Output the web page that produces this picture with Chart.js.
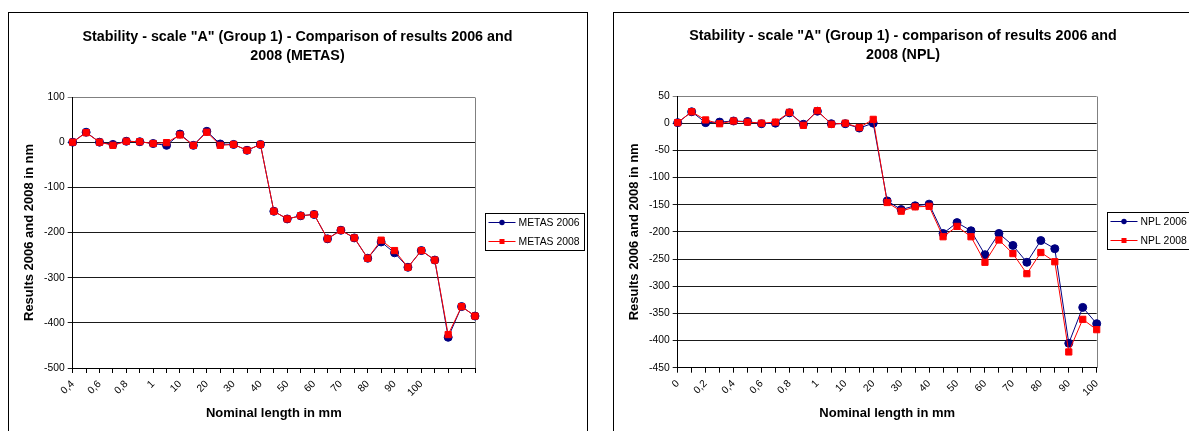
<!DOCTYPE html>
<html><head><meta charset="utf-8">
<script src="https://cdn.jsdelivr.net/npm/chart.js@4.4.1/dist/chart.umd.min.js"></script>
<style>
html,body{margin:0;padding:0;background:#fff;overflow:hidden;width:1189px;height:431px;}
.box{position:absolute;border:1px solid #000;box-sizing:border-box;}
canvas{position:absolute;}
</style></head><body>
<div class="box" style="left:8px;top:12px;width:580px;height:430px"></div>
<canvas id="c1" width="577" height="418" style="left:9px;top:13px"></canvas>
<div class="box" style="left:613px;top:12px;width:582px;height:430px"></div>
<canvas id="c2" width="578" height="418" style="left:614px;top:13px"></canvas>
<script>
const FONT = "'Liberation Sans', Arial, Helvetica, sans-serif";

// ---- METAS chart data ----
const metasCategories = ['0,4','','0,6','','0,8','','1','','10','','20','','30','','40','','50','','60','','70','','80','','90','','100','','','',''];
const metas2006 = [0, 22, 0, -5, 2, 1, -3, -7, 18, -7, 24, -4, -5, -18, -5, -153, -170, -163, -160, -214, -195, -212, -257, -221, -245, -277, -240, -261, -432, -364, -385];
const metas2008 = [0, 21, 0, -7, 2, 1, -3, -1, 16, -7, 22, -7, -5, -18, -5, -153, -170, -163, -160, -214, -195, -212, -257, -217, -240, -277, -240, -261, -426, -364, -385];
const metasNames = ['METAS 2006', 'METAS 2008'];
const metasTitle = ['Stability - scale "A" (Group 1) - Comparison of results 2006 and', '2008 (METAS)'];
const metasY = {min: -500, max: 100, step: 100};

// ---- NPL chart data ----
const nplCategories = ['0','','0,2','','0,4','','0,6','','0,8','','1','','10','','20','','30','','40','','50','','60','','70','','80','','90','','100'];
const npl2006 = [1, 21, 1, 2, 4, 3, -1, 0, 19, -2, 22, -1, -1, -9, 0, -143, -159, -152, -149, -203, -183, -198, -242, -203, -225, -256, -216, -231, -405, -339, -369];
const npl2008 = [1, 21, 6, -1, 4, 2, 0, 2, 20, -4, 23, -2, 0, -8, 7, -146, -162, -154, -153, -209, -190, -209, -256, -215, -240, -277, -238, -255, -421, -361, -380];
const nplNames = ['NPL 2006', 'NPL 2008'];
const nplTitle = ['Stability - scale "A" (Group 1) - comparison of results 2006 and', '2008 (NPL)'];
const nplY = {min: -450, max: 50, step: 50};

const xTitle = 'Nominal length in mm';
const yTitle = 'Results 2006 and 2008 in nm';

const framePlugin = {
  id: 'frame',
  beforeDatasetsDraw(chart) {
    const {ctx, chartArea: a} = chart;
    ctx.save();
    ctx.strokeStyle = '#808080';
    ctx.lineWidth = 1;
    const xr = Math.round(a.right) + 0.5;
    ctx.beginPath();
    ctx.moveTo(xr, Math.round(a.top) + 0.5);
    ctx.lineTo(xr, Math.round(a.bottom));
    ctx.stroke();
    ctx.restore();
  },
  afterDraw(chart) {
    const {ctx, chartArea: a} = chart;
    const ds = chart.data.datasets;
    ctx.save();
    ctx.font = '10.4px ' + FONT;
    const tw = Math.max(...ds.map(d => ctx.measureText(d.label).width));
    const sample = 27;
    const left = Math.round(a.right + 10);
    const w = Math.round(3.5 + sample + 3 + tw + 4);
    const rowH = 19;
    const h = ds.length * rowH - 1;
    const cy = (a.top + a.bottom) / 2 - 1;
    const top = Math.round(cy - h / 2);
    ctx.fillStyle = '#fff';
    ctx.fillRect(left, top, w, h);
    ctx.strokeStyle = '#000';
    ctx.lineWidth = 1;
    ctx.strokeRect(left + 0.5, top + 0.5, w, h);
    ds.forEach((d, i) => {
      const y = top + 9.5 + i * rowH;
      const x0 = left + 3.5, x1 = x0 + sample, xm = (x0 + x1) / 2;
      ctx.strokeStyle = d.borderColor;
      ctx.lineWidth = 1;
      ctx.beginPath(); ctx.moveTo(x0, y); ctx.lineTo(x1, y); ctx.stroke();
      ctx.fillStyle = d.pointBackgroundColor;
      if (d.pointStyle === 'rect') {
        ctx.fillRect(xm - 2.5, y - 2.5, 5, 5);
      } else {
        ctx.beginPath(); ctx.arc(xm, y, 2.7, 0, Math.PI * 2); ctx.fill();
      }
      ctx.fillStyle = '#000';
      ctx.textBaseline = 'middle';
      ctx.textAlign = 'left';
      ctx.fillText(d.label, x1 + 3, y + 0.5);
    });
    ctx.restore();
  }
};

function makeChart(id, cats, s1, s2, names, title, yr, geo) {
  const yMax = yr.max;
  return new Chart(document.getElementById(id), {
    type: 'line',
    data: {
      labels: cats,
      datasets: [
        {label: names[0], data: s1, yAxisID: 'y', borderColor: '#000080', backgroundColor: '#000080',
         borderWidth: 1, pointStyle: 'circle', pointRadius: 4, pointBackgroundColor: '#000080',
         pointBorderColor: '#000080', pointBorderWidth: 1, tension: 0, clip: false, order: 2},
        {label: names[1], data: s2, yAxisID: 'y', borderColor: '#ff0000', backgroundColor: '#ff0000',
         borderWidth: 1, pointStyle: 'rect', pointRadius: 4.4, pointBackgroundColor: '#ff0000',
         pointBorderColor: '#ff0000', pointBorderWidth: 1, tension: 0, clip: false, order: 1}
      ]
    },
    options: {
      responsive: false,
      animation: false,
      events: [],
      devicePixelRatio: 1,
      layout: {padding: 0},
      plugins: {
        legend: {display: false},
        tooltip: {enabled: false},
        title: {
          display: true, text: title, color: '#000',
          font: {family: FONT, size: 14.3, weight: 'bold', lineHeight: '19px'},
          padding: {top: geo.titleTop, bottom: geo.titleBottom}
        }
      },
      scales: {
        x: {
          type: 'category', offset: false,
          grid: {drawOnChartArea: false, drawTicks: true, tickLength: 5, color: '#000', lineWidth: 1},
          border: {display: true, color: '#000', width: 1},
          ticks: {autoSkip: false, maxRotation: 45, minRotation: 45, color: '#000',
                  font: {family: FONT, size: 10.3}, padding: 5},
          title: {display: true, text: xTitle, color: '#000',
                  font: {family: FONT, size: 13, weight: 'bold'}, padding: {top: 0, bottom: 10.2}},
          afterFit(s) { s.height = geo.xH; }
        },
        y: {
          type: 'linear', position: 'left', min: yr.min, max: yr.max,
          ticks: {stepSize: yr.step, color: '#000', font: {family: FONT, size: 10.3}, padding: 3},
          grid: {color: c => (c.tick && c.tick.value === yMax) ? '#808080' : '#1a1a1a', tickLength: 5, lineWidth: 1},
          border: {display: true, color: '#000', width: 1},
          title: {display: true, text: yTitle, color: '#000',
                  font: {family: FONT, size: 13, weight: 'bold'}, padding: {top: 12.2, bottom: 0}},
          afterFit(s) { s.width = geo.yW; }
        },
        yr: {
          type: 'linear', position: 'right', display: true,
          grid: {display: false, drawTicks: false},
          ticks: {display: false},
          border: {display: false},
          afterFit(s) { s.width = geo.rW; }
        }
      }
    },
    plugins: [framePlugin]
  });
}

makeChart('c1', metasCategories, metas2006, metas2008, metasNames, metasTitle, metasY,
  {titleTop: 14.5, titleBottom: 31.5, xH: 63, yW: 63.7, rW: 111});
makeChart('c2', nplCategories, npl2006, npl2008, nplNames, nplTitle, nplY,
  {titleTop: 14, titleBottom: 31, xH: 63.3, yW: 63.7, rW: 95.3});
</script>
</body></html>
